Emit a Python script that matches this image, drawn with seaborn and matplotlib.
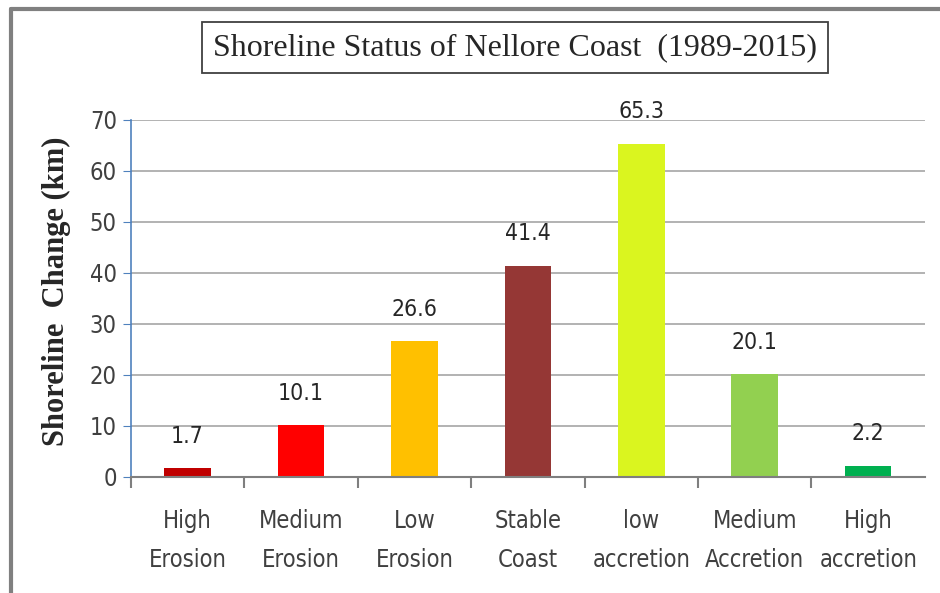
import numpy as np
import pandas as pd
import matplotlib
matplotlib.use("Agg")
import matplotlib.pyplot as plt
import seaborn as sns
from matplotlib.lines import Line2D

# Datos del gráfico
categorias = ["High\nErosion", "Medium\nErosion", "Low\nErosion", "Stable\nCoast",
              "low\naccretion", "Medium\nAccretion", "High\naccretion"]
valores = [1.7, 10.1, 26.6, 41.4, 65.3, 20.1, 2.2]
colores = ["#C00000", "#FF0000", "#FFC000", "#953735", "#DAF51F", "#92D050", "#00B050"]

df = pd.DataFrame({"Clase": categorias, "Cambio": valores})

sns.set_style("white")
plt.rcParams['font.family'] = ['DejaVu Sans']
plt.rcParams['font.stretch'] = 'condensed'

fig = plt.figure(figsize=(9.4, 5.93), dpi=100)
ax = fig.add_axes([0.139, 0.196, 0.845, 0.602])

sns.barplot(data=df, x="Clase", y="Cambio", hue="Clase", palette=colores,
            legend=False, width=0.41, saturation=1, linewidth=0, ax=ax)

ax.set_ylim(0, 70)
ax.set_xlim(-0.5, len(categorias) - 0.5)
ax.set_yticks(np.arange(0, 71, 10))
ax.yaxis.grid(True, color="#A6A6A6", linewidth=1.2)
ax.set_axisbelow(True)

# Etiquetas de valores
for i, v in enumerate(valores):
    ax.annotate(f"{v}", (i, v), xytext=(0, 23), textcoords="offset points",
                ha="center", va="center", fontsize=16.5, color="#262626",
                fontstretch="condensed")

# Ejes
for s in ["top", "right"]:
    ax.spines[s].set_visible(False)
ax.spines["left"].set_color("#4F81BD")
ax.spines["left"].set_linewidth(1.2)
ax.spines["bottom"].set_color("#7F7F7F")
ax.spines["bottom"].set_linewidth(1.5)

ax.tick_params(axis="y", direction="out", length=6, color="#4F81BD",
               labelsize=17, labelcolor="#404040", left=True, pad=4)
ax.set_xticks(np.arange(len(categorias)))
ax.set_xticklabels(categorias, fontsize=17, color="#404040", linespacing=1.8,
                   fontstretch="condensed")
ax.tick_params(axis="x", length=0, pad=23)
ax.set_xticks(np.arange(len(categorias)) - 0.5, minor=True)
ax.tick_params(axis="x", which="minor", direction="out", length=8,
               color="#7F7F7F", width=1.5, bottom=True)

ax.set_xlabel("")
ax.set_ylabel("Shoreline  Change (km)", fontsize=22, fontweight="bold",
              family=["Liberation Serif"])
ax.yaxis.set_label_coords(-0.075, 0.52)

# Título en recuadro
fig.text(0.548, 0.92, "Shoreline Status of Nellore Coast  (1989-2015)",
         ha="center", va="center", fontsize=23, family=["Liberation Serif"],
         bbox=dict(boxstyle="square,pad=0.35", fc="white", ec="#404040", lw=1.3))

# Borde exterior gris
fig.add_artist(Line2D([0.012, 1.0], [0.984, 0.984], color="#808080", lw=3,
                      transform=fig.transFigure))
fig.add_artist(Line2D([0.012, 0.012], [0.0, 0.984], color="#808080", lw=3,
                      transform=fig.transFigure))

fig.savefig("out.png", dpi=100)
